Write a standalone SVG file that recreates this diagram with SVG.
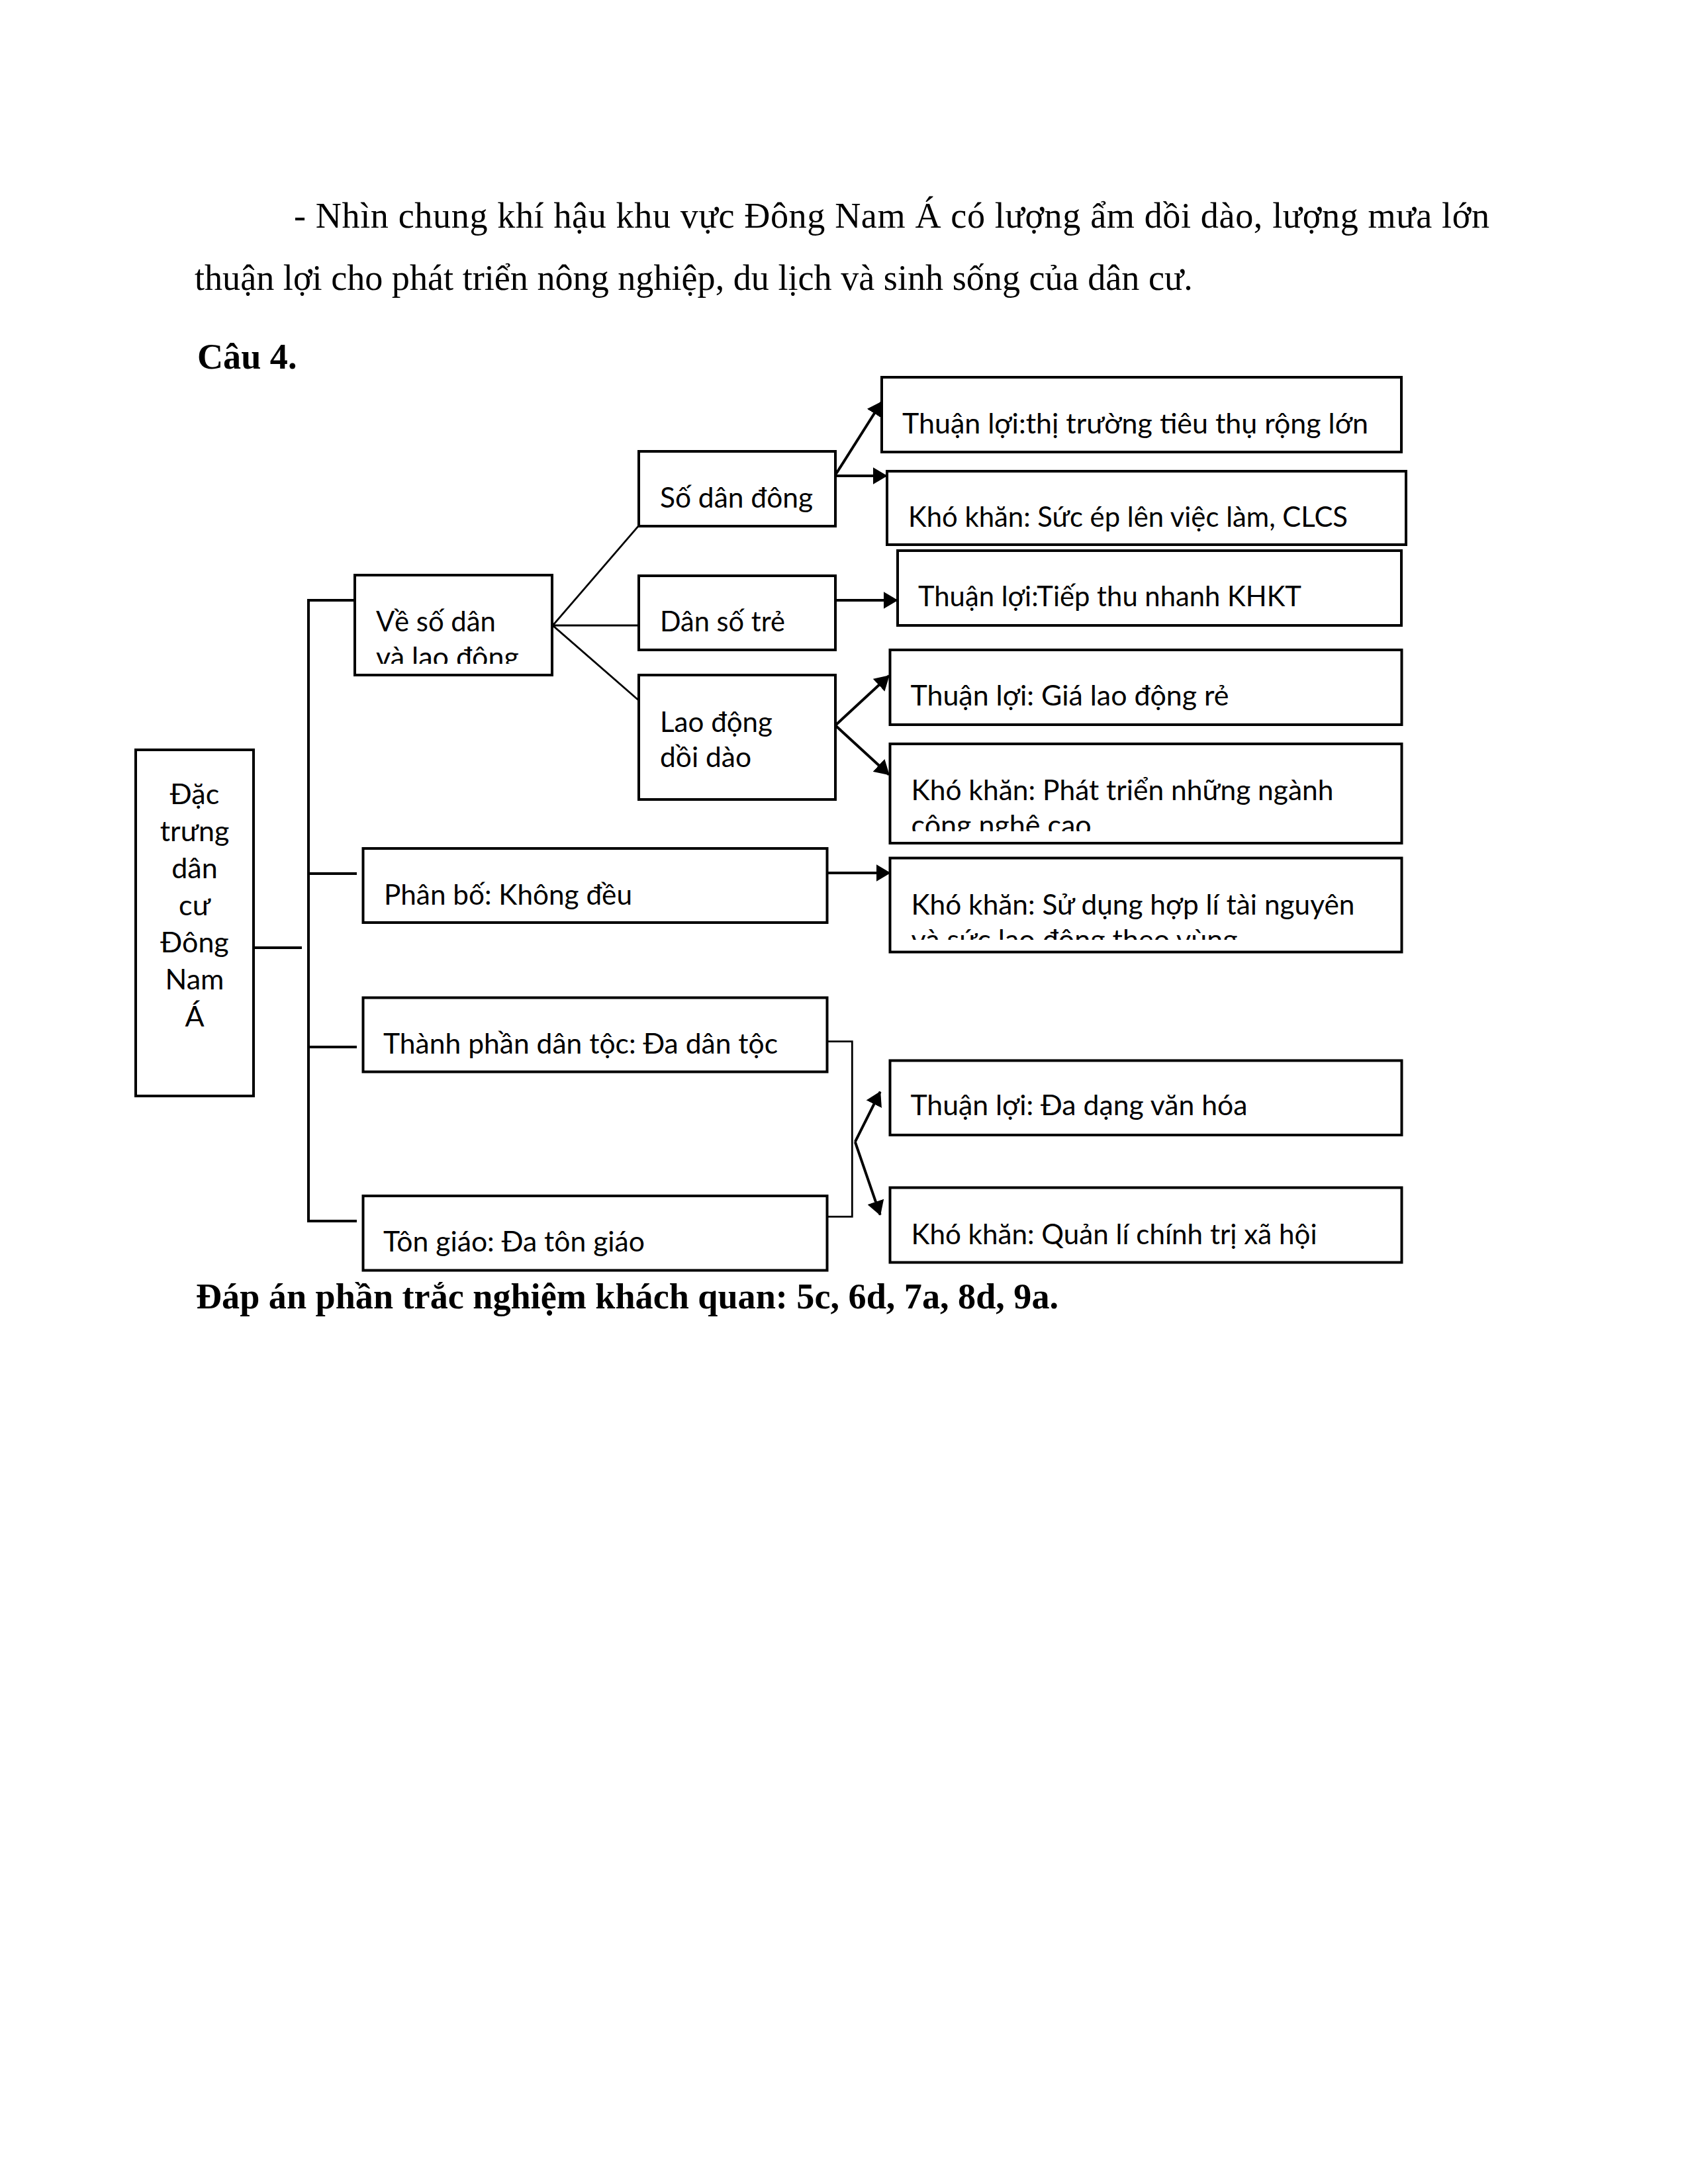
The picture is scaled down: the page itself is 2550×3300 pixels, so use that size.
<svg xmlns="http://www.w3.org/2000/svg" width="2550" height="3300" viewBox="0 0 2550 3300">
<style>
.bg{fill:#fff}
.box{fill:#fff;stroke:#000;stroke-width:4}
.t{font-family:Lato,"Open Sans","DejaVu Sans",sans-serif;font-size:43px;fill:#000}
.c{text-anchor:middle}
.p{font-family:"Liberation Serif","Times New Roman",serif;font-size:54.17px;fill:#000}
.b{font-weight:bold}
.ln{fill:none;stroke:#000;stroke-width:4}
.thin{fill:none;stroke:#000;stroke-width:2.8}
.ar{fill:none;stroke:#000;stroke-width:4;marker-end:url(#ah)}
</style>
<defs>
<marker id="ah" viewBox="0 0 22 26" refX="21" refY="13" markerWidth="22" markerHeight="26" markerUnits="userSpaceOnUse" orient="auto">
<path d="M0,0 L22,13 L0,26 z" fill="#000"/>
</marker>
<clipPath id="cl1"><rect x="536" y="869" width="298" height="134"/></clipPath>
<clipPath id="cl2"><rect x="1344" y="1124" width="773" height="132"/></clipPath>
<clipPath id="cl3"><rect x="1344" y="1296" width="773" height="124"/></clipPath>
</defs>
<rect class="bg" x="0" y="0" width="2550" height="3300"/>

<g id="page-text">
<text class="p" x="444" y="344" textLength="1806" lengthAdjust="spacing">- Nhìn chung khí hậu khu vực Đông Nam Á có lượng ẩm dồi dào, lượng mưa lớn</text>
<text class="p" x="294" y="438">thuận lợi cho phát triển nông nghiệp, du lịch và sinh sống của dân cư.</text>
<text class="p b" x="298" y="557">Câu 4.</text>
<text class="p b" x="296" y="1977">Đáp án phần trắc nghiệm khách quan: 5c, 6d, 7a, 8d, 9a.</text>
</g>

<g id="connectors">
<path class="ln" d="M383,1432 H456"/>
<path class="ln" d="M536,907 H466 V1845 H539"/>
<path class="ln" d="M466,1320 H539"/>
<path class="ln" d="M466,1582 H539"/>
<path class="thin" d="M964.6,794.6 L835,945 L964.6,1058 M835,945 H964.6"/>
<path class="ar" d="M1263,716 L1332,607"/>
<path class="ar" d="M1263,719 H1339.6"/>
<path class="ar" d="M1263,907 H1355.6"/>
<path class="ar" d="M1263,1095 L1343,1021"/>
<path class="ar" d="M1263,1097 L1343,1170.5"/>
<path class="ar" d="M1250,1319 H1344.5"/>
<path class="thin" d="M1249.8,1573.7 H1287.3 V1838.4 H1249.8"/>
<path class="ar" d="M1291.8,1725.4 L1329.7,1649.6"/>
<path class="ar" d="M1291.8,1725.4 L1329.7,1835.7"/>
</g>

<g id="n-dac-trung">
<rect class="box" x="205" y="1133" width="178" height="523"/>
<text class="t c" x="294" y="1215">Đặc</text>
<text class="t c" x="294" y="1271">trưng</text>
<text class="t c" x="294" y="1327">dân</text>
<text class="t c" x="294" y="1383">cư</text>
<text class="t c" x="294" y="1439">Đông</text>
<text class="t c" x="294" y="1495">Nam</text>
<text class="t c" x="294" y="1551">Á</text>
</g>

<g id="n-ve-so-dan">
<rect class="box" x="536" y="869" width="298" height="151"/>
<g clip-path="url(#cl1)">
<text class="t" x="568" y="954" textLength="181" lengthAdjust="spacingAndGlyphs">Về số dân</text>
<text class="t" x="568" y="1007.5">và lao động</text>
</g>
</g>

<g id="n-so-dan-dong">
<rect class="box" x="965" y="682" width="297" height="113"/>
<text class="t" x="997" y="766.5" textLength="231" lengthAdjust="spacingAndGlyphs">Số dân đông</text>
</g>

<g id="n-dan-so-tre">
<rect class="box" x="965" y="870" width="297" height="112"/>
<text class="t" x="997" y="954" textLength="189" lengthAdjust="spacingAndGlyphs">Dân số trẻ</text>
</g>

<g id="n-lao-dong">
<rect class="box" x="965" y="1020" width="297" height="188"/>
<text class="t" x="997" y="1105.8" textLength="170" lengthAdjust="spacingAndGlyphs">Lao động</text>
<text class="t" x="997" y="1159" textLength="138" lengthAdjust="spacingAndGlyphs">dồi dào</text>
</g>

<g id="n-tl-thi-truong">
<rect class="box" x="1332" y="570" width="785" height="113"/>
<text class="t" x="1363" y="655" textLength="704" lengthAdjust="spacingAndGlyphs">Thuận lợi:thị trường tiêu thụ rộng lớn</text>
</g>

<g id="n-kk-suc-ep">
<rect class="box" x="1340" y="712" width="784" height="111"/>
<text class="t" x="1372" y="795.5" textLength="664" lengthAdjust="spacingAndGlyphs">Khó khăn: Sức ép lên việc làm, CLCS</text>
</g>

<g id="n-tl-khkt">
<rect class="box" x="1356" y="832" width="761" height="113"/>
<text class="t" x="1387" y="916" textLength="579" lengthAdjust="spacingAndGlyphs">Thuận lợi:Tiếp thu nhanh KHKT</text>
</g>

<g id="n-tl-gia">
<rect class="box" x="1344.5" y="982" width="773" height="113"/>
<text class="t" x="1375.5" y="1065.6" textLength="481" lengthAdjust="spacingAndGlyphs">Thuận lợi: Giá lao động rẻ</text>
</g>

<g id="n-kk-cong-nghe">
<rect class="box" x="1344.5" y="1124" width="773" height="150"/>
<g clip-path="url(#cl2)">
<text class="t" x="1376.5" y="1208.5" textLength="638" lengthAdjust="spacingAndGlyphs">Khó khăn: Phát triển những ngành</text>
<text class="t" x="1376.5" y="1262">công nghệ cao</text>
</g>
</g>

<g id="n-phan-bo">
<rect class="box" x="548.5" y="1282" width="701" height="112"/>
<text class="t" x="580" y="1367" textLength="375" lengthAdjust="spacingAndGlyphs">Phân bố: Không đều</text>
</g>

<g id="n-kk-tai-nguyen">
<rect class="box" x="1344.5" y="1296.5" width="773" height="142"/>
<g clip-path="url(#cl3)">
<text class="t" x="1376.5" y="1381.7" textLength="670" lengthAdjust="spacingAndGlyphs">Khó khăn: Sử dụng hợp lí tài nguyên</text>
<text class="t" x="1376.5" y="1435">và sức lao động theo vùng</text>
</g>
</g>

<g id="n-dan-toc">
<rect class="box" x="548.5" y="1507.5" width="701" height="112"/>
<text class="t" x="579" y="1591.5" textLength="596" lengthAdjust="spacingAndGlyphs">Thành phần dân tộc: Đa dân tộc</text>
</g>

<g id="n-ton-giao">
<rect class="box" x="548.5" y="1807" width="701" height="112.5"/>
<text class="t" x="579" y="1890.6" textLength="395" lengthAdjust="spacingAndGlyphs">Tôn giáo: Đa tôn giáo</text>
</g>

<g id="n-tl-van-hoa">
<rect class="box" x="1344.5" y="1602.5" width="773" height="112.5"/>
<text class="t" x="1375.5" y="1685" textLength="509" lengthAdjust="spacingAndGlyphs">Thuận lợi: Đa dạng văn hóa</text>
</g>

<g id="n-kk-chinh-tri">
<rect class="box" x="1344.5" y="1794.5" width="773" height="113"/>
<text class="t" x="1376.5" y="1879.5" textLength="613" lengthAdjust="spacingAndGlyphs">Khó khăn: Quản lí chính trị xã hội</text>
</g>
</svg>
